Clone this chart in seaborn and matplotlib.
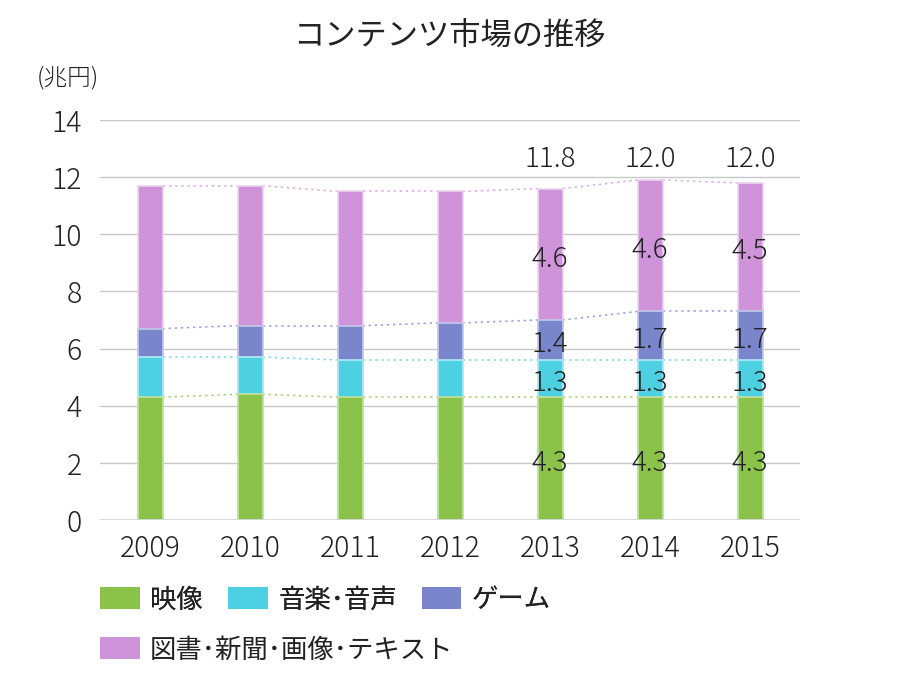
import numpy as np
import pandas as pd
import seaborn as sns
import matplotlib.pyplot as plt
from matplotlib.patches import Patch

years = ["2009", "2010", "2011", "2012", "2013", "2014", "2015"]
video = [4.3, 4.4, 4.3, 4.3, 4.3, 4.3, 4.3]
music = [1.4, 1.3, 1.3, 1.3, 1.3, 1.3, 1.3]
game = [1.0, 1.1, 1.2, 1.3, 1.4, 1.7, 1.7]
books = [5.0, 4.9, 4.7, 4.6, 4.6, 4.6, 4.5]
total_labels = ["", "", "", "", "11.8", "12.0", "12.0"]
video_labels = ["", "", "", "", "4.3", "4.3", "4.3"]
music_labels = ["", "", "", "", "1.3", "1.3", "1.3"]
game_labels = ["", "", "", "", "1.4", "1.7", "1.7"]
books_labels = ["", "", "", "", "4.6", "4.6", "4.5"]

names = ["映像", "音楽･音声", "ゲーム", "図書･新聞･画像･テキスト"]
colors = ["#8bc24a", "#4dd0e1", "#7986cb", "#ce93d8"]
edges = ["#c5e1a5", "#b2ebf2", "#c5cae9", "#ecd3f0"]

sns.set_theme(style="white")
plt.rcParams["font.family"] = ["Noto Sans CJK JP", "DejaVu Sans"]
plt.rcParams["font.weight"] = "light"
text_col = "#222222"

df = pd.DataFrame({"year": years, "video": video, "music": music,
                   "game": game, "books": books})
layers = ["video", "music", "game", "books"]
cum = df[layers].cumsum(axis=1)
df_cum = pd.concat([df[["year"]], cum], axis=1)

fig = plt.figure(figsize=(9, 6.9), dpi=100)
ax = fig.add_axes([100 / 900, 1 - 520 / 690, 700 / 900, 400 / 690])

# stacked bars: draw cumulative totals from the top layer down
for k in range(3, -1, -1):
    sns.barplot(data=df_cum, x="year", y=layers[k], color=colors[k],
                width=0.25, edgecolor=edges[k], linewidth=1.2,
                saturation=1, ax=ax, zorder=3)

# dotted connectors between bar tops
hw = 0.125
for k, lay in enumerate(layers):
    vals = cum[lay].values
    for i in range(len(years) - 1):
        ax.plot([i + hw, i + 1 - hw], [vals[i], vals[i + 1]], ls=(0, (1.5, 2.5)),
                color=colors[k], lw=1.1, alpha=0.8, zorder=2)

# value labels
lab_sets = [video_labels, music_labels, game_labels, books_labels]
for k, lay in enumerate(layers):
    tops = cum[lay].values
    bottoms = tops - df[lay].values
    for i, t in enumerate(lab_sets[k]):
        if t:
            ax.text(i, (tops[i] + bottoms[i]) / 2 - 0.15, t, ha="center", va="center",
                    fontsize=20, color=text_col, zorder=5)
for i, t in enumerate(total_labels):
    if t:
        ax.text(i, 12.62, t, ha="center", va="center", fontsize=20, color=text_col, zorder=5)

ax.set_xlim(-0.5, 6.5)
ax.set_ylim(0, 14)
ax.set_yticks(range(0, 15, 2))
ax.yaxis.grid(True, color="#c8c8c8", lw=1, zorder=0)
ax.set_axisbelow(True)
for s in ax.spines.values():
    s.set_visible(False)
ax.axhline(0, color="#d6d6d6", lw=2, zorder=4)
ax.tick_params(axis="both", length=0, labelsize=20.5, labelcolor=text_col)
ax.tick_params(axis="y", pad=13)
ax.tick_params(axis="x", pad=10)
ax.set_xlabel("")
ax.set_ylabel("")

fig.text(449 / 900, 1 - 36 / 690, "コンテンツ市場の推移", ha="center", va="center",
         fontsize=22.5, color=text_col, fontweight="normal")
fig.text(68 / 900, 1 - 78 / 690, "(兆円)", ha="center", va="center",
         fontsize=17, color=text_col)

handles = [Patch(facecolor=c, edgecolor="none") for c in colors]
leg_kw = dict(frameon=False, prop={"size": 19, "weight": "normal"},
              handlelength=1.5, handleheight=0.9,
              handletextpad=0.4, columnspacing=0.95, borderpad=0, borderaxespad=0,
              loc="center left", labelcolor=text_col)
leg1 = fig.legend(handles[:3], names[:3], ncol=3,
                  bbox_to_anchor=(100 / 900, 1 - 600 / 690), **leg_kw)
fig.add_artist(leg1)
fig.legend(handles[3:], names[3:], ncol=1,
           bbox_to_anchor=(100 / 900, 1 - 650 / 690), **leg_kw)

fig.savefig("out.png", dpi=100)
